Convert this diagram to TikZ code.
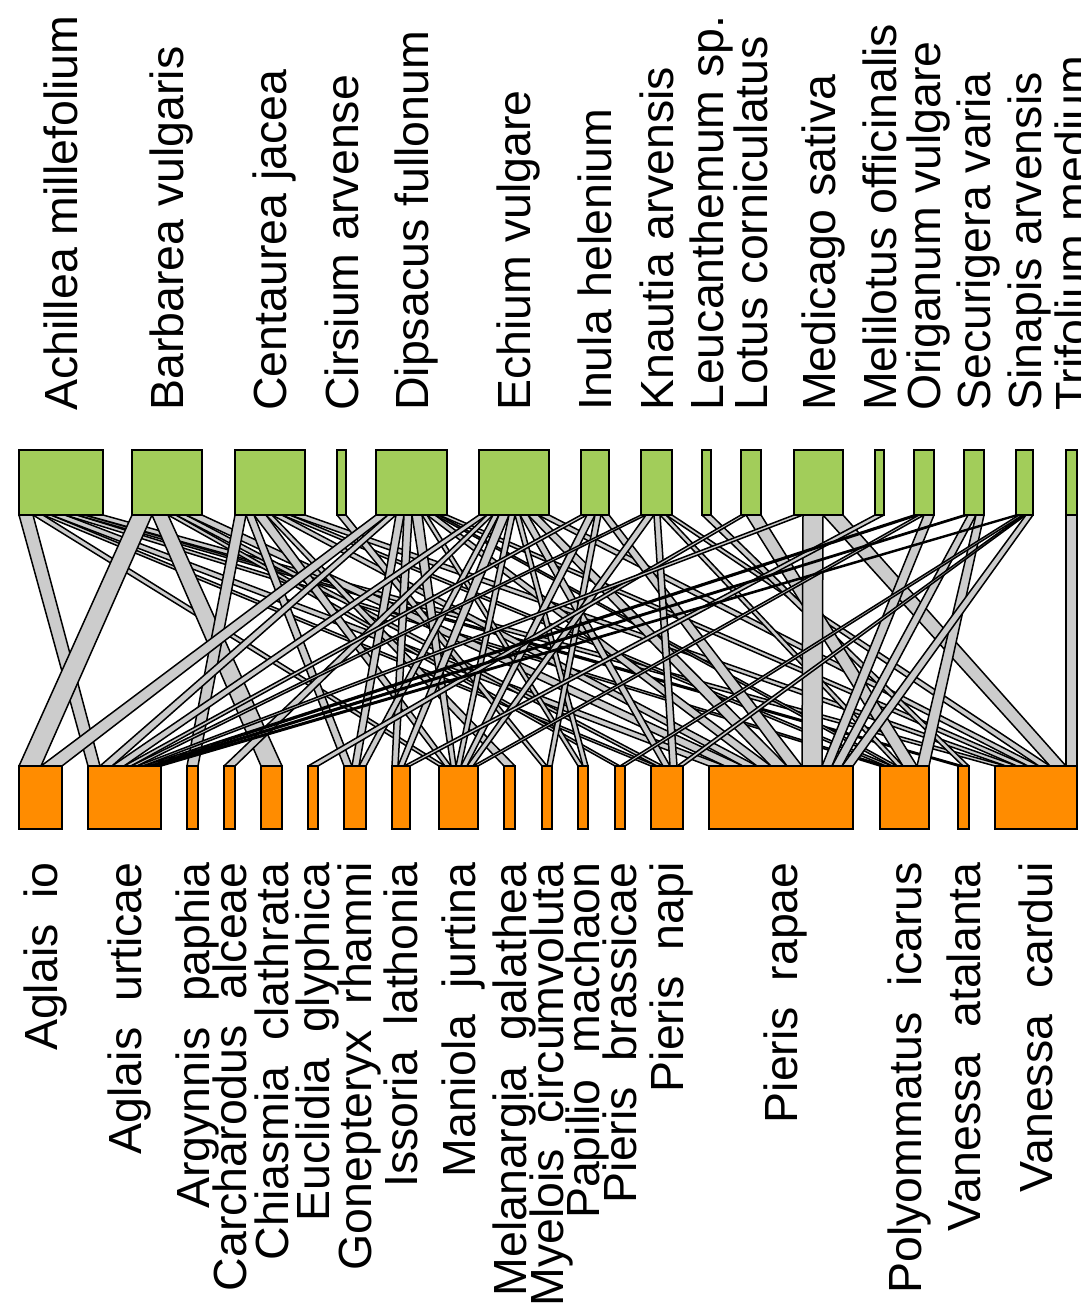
\documentclass[tikz,border=0pt]{standalone}
\usepackage{fontspec}
\setmainfont{Liberation Sans}
\definecolor{plantgreen}{HTML}{A2CD5A}
\definecolor{animalorange}{HTML}{FF8C00}
\definecolor{linkgray}{HTML}{CCCCCC}
\pgfdeclarelayer{linklayer}
\pgfsetlayers{linklayer,main}
\tikzset{
  plantbox/.style={draw=black, fill=plantgreen, line width=1.8pt, inner sep=0pt, outer sep=0pt, anchor=south west, minimum height=65pt},
  animalbox/.style={draw=black, fill=animalorange, line width=1.8pt, inner sep=0pt, outer sep=0pt, anchor=north west, minimum height=63pt},
  linkband/.style={fill=linkgray, draw=black, line width=1.5pt, line join=round},
  plantlabel/.style={rotate=90, anchor=base west, inner sep=0pt, font=\fontsize{46.5pt}{50pt}\selectfont},
  animallabel/.style={rotate=90, anchor=base east, inner sep=0pt, font=\fontsize{46.5pt}{50pt}\selectfont},
}
\def\linklist{1/2/14/12, 1/9/10/6, 1/14/8/6, 1/15/14/16, 1/16/12/6, 1/17/8/5, 1/18/18/11,
2/1/20/22, 2/5/16/21, 2/13/8/5, 2/14/10/6, 2/15/16/18,
3/3/11/11, 3/7/8/8, 3/9/12/6, 3/10/6/11, 3/15/10/14, 3/16/8/6, 3/18/15/11,
4/11/9/5,
5/1/12/21, 5/2/8/12, 5/7/8/7, 5/8/8/6, 5/9/10/5, 5/12/5/5, 5/15/8/14, 5/16/4/5, 5/18/8/11,
6/2/8/12, 6/4/6/11, 6/7/6/7, 6/8/10/6, 6/9/6/5, 6/12/5/5, 6/14/8/7, 6/15/10/16, 6/18/11/11,
7/2/6/7, 7/9/8/6, 7/11/6/5, 7/15/8/15,
8/2/5/6, 8/9/8/6, 8/14/6/7, 8/16/6/6, 8/18/6/11,
9/17/9/6,
10/6/5/10, 10/16/15/14,
11/2/9/6, 11/15/20/20, 11/18/20/16,
12/8/9/6,
13/2/5/6, 13/9/5/5, 13/15/10/10,
14/2/4/6, 14/15/8/10, 14/16/8/12,
15/2/3/6, 15/13/4/5, 15/14/3/6, 15/15/7/11,
16/18/11/11}
\begin{document}
\begin{tikzpicture}[x=1pt,y=-1pt]
\useasboundingbox (0,0) rectangle (1080,1310);
\clip (0,0) rectangle (1080,1310);
% plant boxes and labels
\foreach \i/\xa/\xb/\nm in {1/19/103/Achillea millefolium, 2/132/202/Barbarea vulgaris,
  3/235/305/Centaurea jacea, 4/337/346/Cirsium arvense, 5/376/447/Dipsacus fullonum,
  6/479/549/Echium vulgare, 7/581/609/Inula helenium, 8/641/672/Knautia arvensis,
  9/702/711/Leucanthemum sp., 10/741/761/Lotus corniculatus, 11/794/843/Medicago sativa,
  12/875/884/Melilotus officinalis, 13/914/934/Origanum vulgare, 14/964/984/Securigera varia,
  15/1016/1033/Sinapis arvensis, 16/1066/1077/Trifolium medium} {
  \pgfmathsetmacro\bw{\xb-\xa}
  \expandafter\xdef\csname pw\i\endcsname{\bw}
  \expandafter\xdef\csname ts\i\endcsname{0}
  \expandafter\xdef\csname tc\i\endcsname{0}
  \node[plantbox, minimum width=\bw pt] (p\i) at (\xa,515) {};
  \pgfmathsetmacro\cx{(\xa+\xb)/2+16.5}
  \node[plantlabel] (pl\i) at (\cx,411) {\nm};
}
% animal boxes and labels
\foreach \j/\xa/\xb/\nm in {1/19/62/Aglais\ \ io, 2/88/161/Aglais\ \ urticae,
  3/187/198/Argynnis\ \ paphia, 4/224/235/Carcharodus\ \ alceae, 5/261/282/Chiasmia\ \ clathrata,
  6/308/318/Euclidia\ \ glyphica, 7/344/366/Gonepteryx\ \ rhamni, 8/392/410/Issoria\ \ lathonia,
  9/439/478/Maniola\ \ jurtina, 10/504/515/Melanargia\ \ galathea, 11/542/552/Myelois\ \ circumvoluta,
  12/578/588/Papilio\ \ machaon, 13/615/625/Pieris\ \ brassicae, 14/651/683/Pieris\ \ napi,
  15/709/853/Pieris\ \ rapae, 16/880/929/Polyommatus\ \ icarus, 17/958/969/Vanessa\ \ atalanta,
  18/995/1077/Vanessa\ \ cardui} {
  \pgfmathsetmacro\bw{\xb-\xa}
  \expandafter\xdef\csname aw\j\endcsname{\bw}
  \expandafter\xdef\csname bs\j\endcsname{0}
  \expandafter\xdef\csname bc\j\endcsname{0}
  \node[animalbox, minimum width=\bw pt] (a\j) at (\xa,766) {};
  \pgfmathsetmacro\cx{(\xa+\xb)/2+16.5}
  \node[animallabel] (al\j) at (\cx,862) {\nm};
}
% pass 1: sums
\foreach \i/\j/\tw/\bwt in \linklist {
  \edef\cur{\csname ts\i\endcsname}
  \pgfmathsetmacro\tmp{\cur+\tw}
  \expandafter\xdef\csname ts\i\endcsname{\tmp}
  \edef\cur{\csname bs\j\endcsname}
  \pgfmathsetmacro\tmp{\cur+\bwt}
  \expandafter\xdef\csname bs\j\endcsname{\tmp}
}
% pass 2: link bands
\begin{pgfonlayer}{linklayer}
\foreach \i/\j/\tw/\bwt in \linklist {
  \edef\curta{\csname tc\i\endcsname}
  \edef\curpw{\csname pw\i\endcsname}
  \edef\curts{\csname ts\i\endcsname}
  \edef\curba{\csname bc\j\endcsname}
  \edef\curaw{\csname aw\j\endcsname}
  \edef\curbs{\csname bs\j\endcsname}
  \pgfmathsetmacro\lkta{\curta}
  \pgfmathsetmacro\lktb{\curta+\tw*\curpw/\curts}
  \pgfmathsetmacro\lkba{\curba}
  \pgfmathsetmacro\lkbb{\curba+\bwt*\curaw/\curbs}
  \expandafter\xdef\csname tc\i\endcsname{\lktb}
  \expandafter\xdef\csname bc\j\endcsname{\lkbb}
  \path[linkband] ([xshift=\lkta pt]p\i.south west) -- ([xshift=\lktb pt]p\i.south west)
    -- ([xshift=\lkbb pt]a\j.north west) -- ([xshift=\lkba pt]a\j.north west) -- cycle;
}
\end{pgfonlayer}
\end{tikzpicture}
\end{document}
